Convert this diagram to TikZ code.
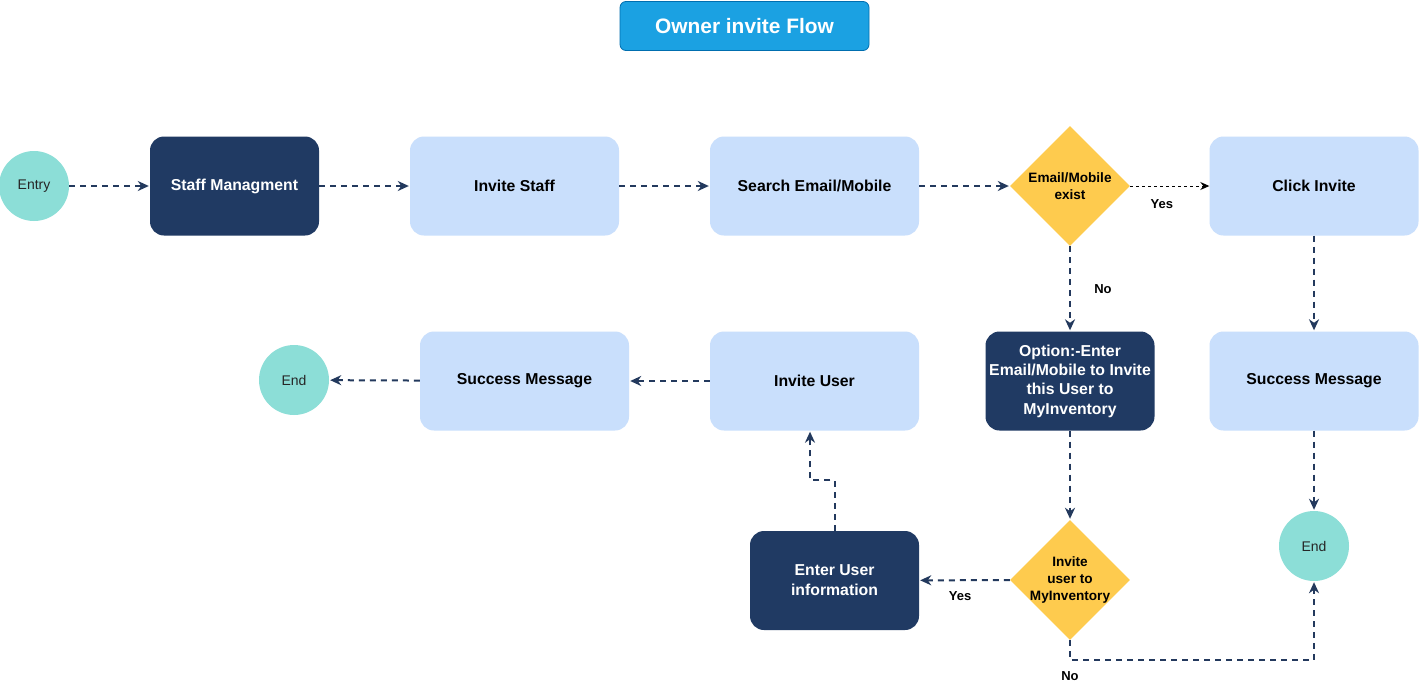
\documentclass[tikz,border=0pt]{standalone}
\usepackage{fontspec}
\setmainfont{Liberation Sans}
\usetikzlibrary{arrows.meta,shapes.geometric}
\definecolor{darkbox}{HTML}{203A63}
\definecolor{lightbox}{HTML}{C9DFFC}
\definecolor{tealc}{HTML}{8CDED7}
\definecolor{yellowc}{HTML}{FECB4E}
\definecolor{linec}{HTML}{23395D}
\definecolor{titlefill}{HTML}{1BA1E2}
\definecolor{titledraw}{HTML}{006EAF}
\begin{document}
\begin{tikzpicture}[x=1pt,y=-1pt,
  txt/.style={font=\fontsize{15.8}{20}\selectfont\bfseries, align=center},
  darkrect/.style={txt, rectangle, rounded corners=14pt, fill=darkbox, text=white, minimum height=99pt},
  lightrect/.style={txt, rectangle, rounded corners=14pt, fill=lightbox, text=black, minimum width=209pt, minimum height=99pt},
  terminal/.style={circle, fill=tealc, minimum size=70pt, inner sep=0pt, font=\fontsize{14}{16}\selectfont, text=black!85},
  decision/.style={diamond, fill=yellowc, minimum width=120pt, minimum height=120pt, inner sep=-8pt, aspect=1, font=\fontsize{13.6}{17}\selectfont\bfseries, align=center},
  flow/.style={draw=linec, line width=2pt, dash pattern=on 6pt off 5pt, -{Stealth[length=11pt,width=10pt,inset=3.5pt]}, shorten >=1pt},
  dotflow/.style={draw=black, line width=1pt, dash pattern=on 3pt off 3pt, -{Stealth[length=9pt,width=8pt,inset=3pt]}},
  lbl/.style={font=\fontsize{13}{15}\selectfont\bfseries, text=black}
]
\useasboundingbox (0,0) rectangle (1420,691);
\fill[white] (0,0) rectangle (1420,691);

\node[rectangle, rounded corners=6pt, fill=titlefill, draw=titledraw, line width=0.8pt, minimum width=249pt, minimum height=49pt, text=white, font=\fontsize{20.9}{24}\selectfont\bfseries] (title) at (744.5,26) {Owner invite Flow};

\node[terminal] (entry) at (34,186) {Entry};
\node[darkrect, minimum width=169pt] (staff) at (234.5,186) {Staff Managment};
\node[lightrect] (invstaff) at (514.5,186) {Invite Staff};
\node[lightrect] (search) at (814.5,186) {Search Email/Mobile};
\node[decision] (d1) at (1070,186) {Email/Mobile\\exist};
\node[lightrect] (click) at (1314,186) {Click Invite};
\node[lightrect] (succR) at (1314,381) {Success Message};
\node[terminal] (endR) at (1314,546) {End};
\node[darkrect, minimum width=169pt, font=\fontsize{15.8}{19.3}\selectfont\bfseries] (opt) at (1070,381) {Option:-Enter\\Email/Mobile to Invite\\this User to\\MyInventory};
\node[lightrect] (invuser) at (814.5,381) {Invite User};
\node[lightrect] (succL) at (524.5,381) {Success Message};
\node[terminal] (endL) at (294,380) {End};
\node[decision] (d2) at (1070,580) {Invite\\user to\\MyInventory};
\node[darkrect, minimum width=169pt] (enter) at (834.5,580.5) {Enter User\\information};

\draw[flow] (entry) -- (staff);
\draw[flow] (staff) -- (invstaff);
\draw[flow] (invstaff) -- (search);
\draw[flow] (search) -- (d1);
\draw[dotflow] (d1) -- (click) node[lbl, pos=0.4, below=10pt] {Yes};
\draw[flow] (d1) -- (opt) node[lbl, midway, right=20pt] {No};
\draw[flow] (click) -- (succR);
\draw[flow] (succR) -- (endR);
\draw[flow] (opt) -- (d2);
\draw[flow] (d2) -- (enter) node[lbl, pos=0.55, below=7pt] {Yes};
\coordinate (k2) at (1070,660);
\draw[flow] (d2.south) -- (k2) -| (endR.south);
\node[lbl] (no2) at (1070,676) {No};
\coordinate (k1) at (810,480);
\draw[flow] (enter.north) |- (k1) -- (k1 |- invuser.south);
\draw[flow] (invuser) -- (succL);
\draw[flow] (succL) -- (endL);
\end{tikzpicture}
\end{document}
